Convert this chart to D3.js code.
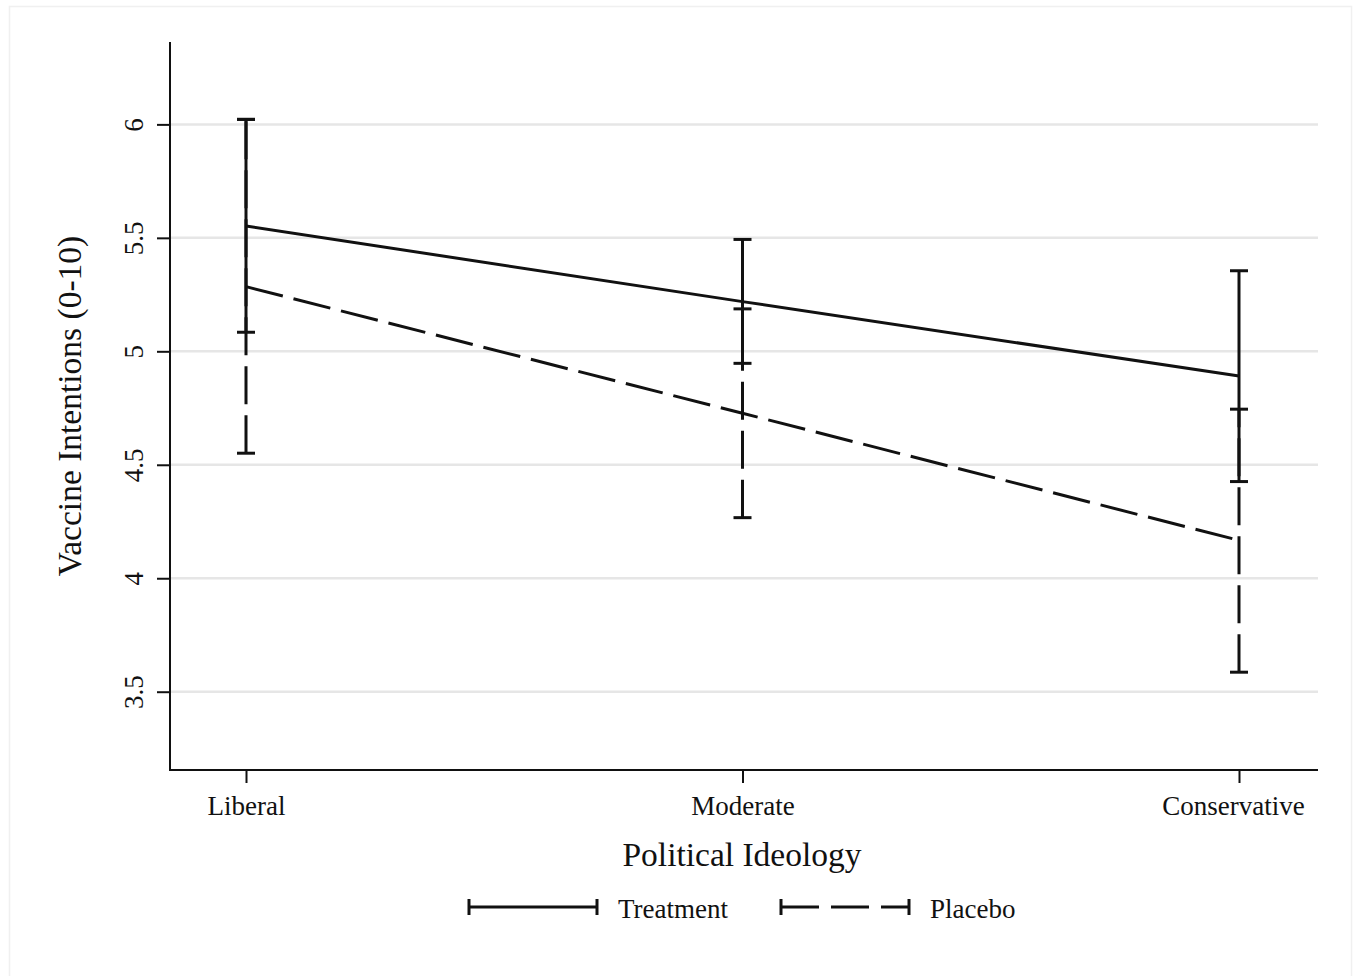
<!DOCTYPE html>
<html>
<head>
<meta charset="utf-8">
<script src="https://cdn.jsdelivr.net/npm/d3@7"></script>
<style>
  html, body { margin: 0; padding: 0; background: #ffffff; }
  svg { display: block; }
  text { font-family: "Liberation Serif", "Times New Roman", serif; fill: #111; }
</style>
</head>
<body>
<svg id="chart" width="1354" height="976"></svg>
<script>
// Predicted vaccine intentions by political ideology, with 95% confidence intervals
const categories = ["Liberal", "Moderate", "Conservative"];

const treatmentMean  = [5.552, 5.219, 4.891];
const treatmentLower = [5.084, 4.947, 4.426];
const treatmentUpper = [6.022, 5.493, 5.355];

const placeboMean  = [5.285, 4.727, 4.167];
const placeboLower = [4.551, 4.267, 3.586];
const placeboUpper = [6.022, 5.187, 4.745];

const yTicks = [3.5, 4, 4.5, 5, 5.5, 6];
const seriesNames = ["Treatment", "Placebo"];

const svg = d3.select("#chart");

// Plot region
const plotLeft = 170, plotRight = 1318, plotTop = 42, plotBottom = 770;

const x = d3.scalePoint().domain(categories).range([246, 1239]);
const y = d3.scaleLinear().domain([3.155, 6.363]).range([plotBottom, plotTop]);

// Faint outer frame
svg.append("rect")
  .attr("x", 9.5).attr("y", 6.5)
  .attr("width", 1342).attr("height", 990)
  .attr("fill", "none").attr("stroke", "#f0f0f0").attr("stroke-width", 1.5);

// Horizontal gridlines
svg.append("g").selectAll("line")
  .data(yTicks).join("line")
  .attr("x1", plotLeft).attr("x2", plotRight)
  .attr("y1", d => y(d)).attr("y2", d => y(d))
  .attr("stroke", "#e6e6e6").attr("stroke-width", 2.5);

// Y axis
const yAxis = svg.append("g")
  .attr("transform", `translate(${plotLeft},0)`)
  .call(d3.axisLeft(y).tickValues(yTicks).tickSize(13).tickFormat(d3.format("")));
yAxis.select(".domain").remove();
yAxis.selectAll(".tick line").attr("stroke", "#111").attr("stroke-width", 2);
yAxis.selectAll(".tick text")
  .attr("x", null).attr("dy", null)
  .attr("text-anchor", "middle")
  .attr("transform", "translate(-27,0) rotate(-90)")
  .style("font-size", "27px")
  .style("font-family", "'Liberation Serif', serif")
  .attr("fill", "#111");
svg.append("line")
  .attr("x1", plotLeft).attr("x2", plotLeft)
  .attr("y1", plotTop).attr("y2", plotBottom + 1)
  .attr("stroke", "#111").attr("stroke-width", 2);

// X axis
const xAxis = svg.append("g")
  .attr("transform", `translate(0,${plotBottom})`)
  .call(d3.axisBottom(x).tickSize(13));
xAxis.select(".domain").remove();
xAxis.selectAll(".tick line").attr("stroke", "#111").attr("stroke-width", 2);
xAxis.selectAll(".tick text")
  .attr("y", 45).attr("dy", null)
  .attr("dx", (d, i) => i === categories.length - 1 ? -6 : 0)
  .style("font-size", "27px")
  .style("font-family", "'Liberation Serif', serif")
  .attr("fill", "#111");
svg.append("line")
  .attr("x1", plotLeft - 1).attr("x2", plotRight)
  .attr("y1", plotBottom).attr("y2", plotBottom)
  .attr("stroke", "#111").attr("stroke-width", 2);

// Axis titles
svg.append("text")
  .attr("transform", `translate(81,${(plotTop + plotBottom) / 2}) rotate(-90)`)
  .attr("text-anchor", "middle")
  .style("font-size", "33.5px")
  .text("Vaccine Intentions (0-10)");

svg.append("text")
  .attr("x", (plotLeft + plotRight) / 2 - 2).attr("y", 866)
  .attr("text-anchor", "middle")
  .style("font-size", "33.5px")
  .text("Political Ideology");

// Series definitions
const series = [
  { name: seriesNames[1], mean: placeboMean, lo: placeboLower, hi: placeboUpper, dash: "38,11" },
  { name: seriesNames[0], mean: treatmentMean, lo: treatmentLower, hi: treatmentUpper, dash: null }
];

const capHalf = 9;
const line = d3.line().x((d, i) => x(categories[i])).y(d => y(d));

series.forEach(s => {
  const g = svg.append("g");
  // confidence interval spikes (drawn from lower bound upward)
  categories.forEach((c, i) => {
    g.append("line")
      .attr("x1", x(c)).attr("x2", x(c))
      .attr("y1", y(s.lo[i])).attr("y2", y(s.hi[i]))
      .attr("stroke", "#111").attr("stroke-width", 3)
      .attr("stroke-dasharray", s.dash);
    [s.lo[i], s.hi[i]].forEach(v => {
      g.append("line")
        .attr("x1", x(c) - capHalf).attr("x2", x(c) + capHalf)
        .attr("y1", y(v)).attr("y2", y(v))
        .attr("stroke", "#111").attr("stroke-width", 3);
    });
  });
  // connecting line through the point estimates
  g.append("path")
    .datum(s.mean)
    .attr("d", line)
    .attr("fill", "none")
    .attr("stroke", "#111").attr("stroke-width", 3)
    .attr("stroke-dasharray", s.dash);
});

// Legend
const legendY = 907;
const legendItems = [
  { name: seriesNames[0], x0: 469, x1: 597, dash: null, tx: 618 },
  { name: seriesNames[1], x0: 781, x1: 909, dash: "38,12", tx: 930 }
];
legendItems.forEach(it => {
  const g = svg.append("g");
  g.append("line")
    .attr("x1", it.x0).attr("x2", it.x1)
    .attr("y1", legendY).attr("y2", legendY)
    .attr("stroke", "#111").attr("stroke-width", 3)
    .attr("stroke-dasharray", it.dash);
  [it.x0, it.x1].forEach(xx => {
    g.append("line")
      .attr("x1", xx).attr("x2", xx)
      .attr("y1", legendY - 8).attr("y2", legendY + 8)
      .attr("stroke", "#111").attr("stroke-width", 3);
  });
  g.append("text")
    .attr("x", it.tx).attr("y", legendY + 11)
    .style("font-size", "27px")
    .text(it.name);
});
</script>
</body>
</html>
